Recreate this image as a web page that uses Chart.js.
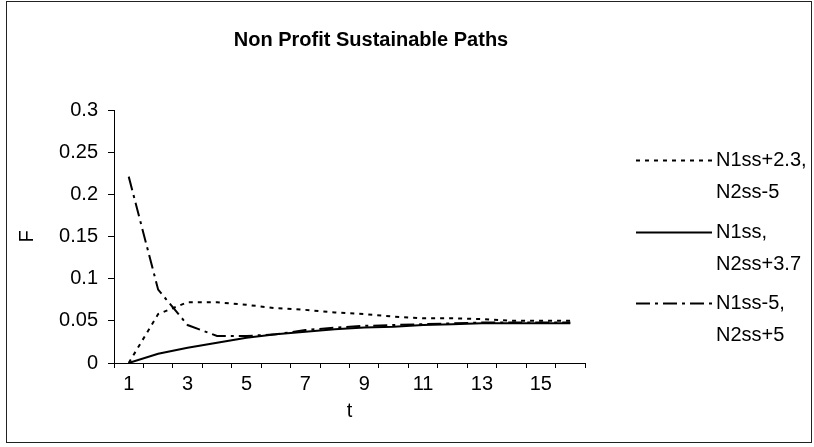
<!DOCTYPE html>
<html>
<head>
<meta charset="utf-8">
<script src="https://cdn.jsdelivr.net/npm/chart.js@4"></script>
<style>
  html, body { margin: 0; padding: 0; background: #fff; }
  #wrap { width: 814px; height: 447px; position: relative; }
</style>
</head>
<body>
<div id="wrap"><canvas id="c" width="814" height="447"></canvas></div>
<script>
// Periods on the horizontal axis
const periods = ['1','2','3','4','5','6','7','8','9','10','11','12','13','14','15','16'];
// Only every other period is labelled
const periodTickLabels = ['1','','3','','5','','7','','9','','11','','13','','15',''];

// F along each sustainable path
const pathHighN1 = [0, 0.058, 0.072, 0.072, 0.069, 0.065, 0.063, 0.060, 0.058, 0.055, 0.053, 0.053, 0.052, 0.050, 0.050, 0.050];
const pathSteadyN1 = [0, 0.011, 0.018, 0.024, 0.030, 0.034, 0.037, 0.040, 0.042, 0.043, 0.045, 0.046, 0.047, 0.047, 0.047, 0.047];
const pathLowN1 = [0.221, 0.087, 0.045, 0.032, 0.032, 0.034, 0.039, 0.042, 0.044, 0.045, 0.046, 0.047, 0.048, 0.048, 0.048, 0.048];

// Legend entries, each wrapped over two lines
const seriesNames = [
  ['N1ss+2.3,', 'N2ss-5'],
  ['N1ss,', 'N2ss+3.7'],
  ['N1ss-5,', 'N2ss+5']
];

// Vertical axis range and step
const yMin = 0, yMax = 0.3, yStep = 0.05;

const FONT = "'Liberation Sans', Arial, sans-serif";
const INK = '#000';

const frame = {
  id: 'frame',
  beforeDraw(chart) {
    const ctx = chart.ctx;
    ctx.save();
    ctx.fillStyle = '#fff';
    ctx.fillRect(0, 0, chart.width, chart.height);
    ctx.restore();
  },
  afterDraw(chart) {
    const ctx = chart.ctx;
    ctx.save();
    ctx.strokeStyle = '#222';
    ctx.lineWidth = 1;
    ctx.strokeRect(6.5, 1.5, 805, 441);
    ctx.restore();
  }
};

const heading = {
  id: 'heading',
  afterDraw(chart) {
    const ctx = chart.ctx;
    ctx.save();
    ctx.fillStyle = INK;
    ctx.font = 'bold 20px ' + FONT;
    ctx.textAlign = 'center';
    ctx.textBaseline = 'middle';
    ctx.fillText('Non Profit Sustainable Paths', 371, 40);
    ctx.restore();
  }
};

const sideLegend = {
  id: 'sideLegend',
  afterDraw(chart) {
    const ctx = chart.ctx;
    const rowsY = [160, 232, 303];
    const lineGap = 32;
    ctx.save();
    chart.data.datasets.forEach((ds, i) => {
      const y = rowsY[i];
      ctx.strokeStyle = ds.borderColor;
      ctx.lineWidth = ds.borderWidth;
      ctx.setLineDash(ds.borderDash || []);
      ctx.beginPath();
      ctx.moveTo(636, y + 0.5);
      ctx.lineTo(712, y + 0.5);
      ctx.stroke();
      ctx.setLineDash([]);
      ctx.fillStyle = INK;
      ctx.font = '20px ' + FONT;
      ctx.textAlign = 'left';
      ctx.textBaseline = 'middle';
      seriesNames[i].forEach((line, k) => ctx.fillText(line, 716, y + k * lineGap));
    });
    ctx.restore();
  }
};

const makeSeries = (names, values, dash) => ({
  label: names.join(' '),
  data: values,
  borderColor: INK,
  backgroundColor: INK,
  borderWidth: 2,
  borderDash: dash,
  pointRadius: 0,
  tension: 0,
  fill: false
});

new Chart(document.getElementById('c'), {
  type: 'line',
  data: {
    labels: periods,
    datasets: [
      makeSeries(seriesNames[0], pathHighN1, [4, 5]),
      makeSeries(seriesNames[1], pathSteadyN1, []),
      makeSeries(seriesNames[2], pathLowN1, [14, 5, 3, 5])
    ]
  },
  options: {
    responsive: false,
    animation: false,
    layout: { padding: { left: 8, right: 229, top: 110, bottom: 5 } },
    plugins: {
      legend: { display: false },
      title: { display: false },
      tooltip: { enabled: false }
    },
    scales: {
      x: {
        type: 'category',
        offset: true,
        afterFit(scale) { scale.height = 79; },
        grid: {
          offset: true,
          drawOnChartArea: false,
          drawTicks: true,
          tickLength: 5,
          color: INK,
          lineWidth: 1
        },
        border: { display: true, color: INK, width: 1 },
        ticks: {
          autoSkip: false,
          maxRotation: 0,
          padding: 4,
          color: INK,
          font: { family: FONT, size: 20 },
          callback: (v, i) => periodTickLabels[i]
        },
        title: {
          display: true,
          text: 't',
          color: INK,
          font: { family: FONT, size: 20 },
          padding: { top: 0, bottom: 19 }
        }
      },
      y: {
        min: yMin,
        max: yMax,
        afterFit(scale) { scale.width = 106; },
        grid: {
          drawOnChartArea: false,
          drawTicks: true,
          tickLength: 6,
          color: INK,
          lineWidth: 1
        },
        border: { display: true, color: INK, width: 1 },
        ticks: {
          stepSize: yStep,
          padding: 10,
          color: INK,
          font: { family: FONT, size: 20 },
          callback: (v) => String(Math.round(v * 100) / 100)
        },
        title: {
          display: true,
          text: 'F',
          color: INK,
          font: { family: FONT, size: 20 },
          padding: { top: 7, bottom: 0 }
        }
      }
    }
  },
  plugins: [frame, heading, sideLegend]
});
</script>
</body>
</html>
